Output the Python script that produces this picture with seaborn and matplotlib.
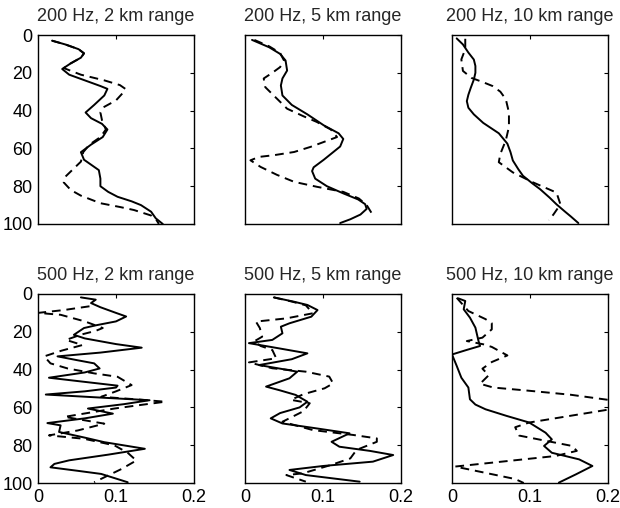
import matplotlib
matplotlib.use("Agg")
import matplotlib.pyplot as plt
import seaborn as sns
import pandas as pd

sns.set_style("white")
plt.rcParams['font.family'] = ['Liberation Sans', 'DejaVu Sans']

titles = ["200 Hz, 2 km range", "200 Hz, 5 km range", "200 Hz, 10 km range",
          "500 Hz, 2 km range", "500 Hz, 5 km range", "500 Hz, 10 km range"]
x_ticks = [0, 0.1, 0.2]
x_tick_labels = ["0", "0.1", "0.2"]
y_ticks = [0, 20, 40, 60, 80, 100]
y_tick_labels = ["0", "20", "40", "60", "80", "100"]

# ---- 200 Hz, 2 km ----
p1_solid_x = [0.018, 0.035, 0.052, 0.059, 0.055, 0.042, 0.031, 0.040, 0.060, 0.080, 0.089, 0.085, 0.072, 0.061,
              0.068, 0.082, 0.089, 0.083, 0.068, 0.055, 0.059, 0.078, 0.080, 0.080, 0.090, 0.102, 0.120, 0.132,
              0.145, 0.151, 0.160]
p1_solid_d = [3, 5, 7.5, 9.7, 12, 15, 18, 21, 24, 27, 28.5, 32, 37, 41, 44, 47, 50, 54, 58, 62, 66, 71.5, 76, 80,
              83, 85.6, 88, 90, 93.5, 97, 100]
p1_dash_x = [0.018, 0.035, 0.052, 0.059, 0.055, 0.042, 0.033, 0.055, 0.085, 0.105, 0.112, 0.108, 0.100, 0.085,
             0.080, 0.082, 0.087, 0.080, 0.066, 0.058, 0.055, 0.045, 0.035, 0.033, 0.042, 0.055, 0.080, 0.105,
             0.123, 0.145, 0.152, 0.155]
p1_dash_d = [3, 5, 7.5, 9.7, 12, 15, 17.5, 21, 24, 26.5, 28.5, 31, 34.6, 38, 41, 45, 50, 54, 58, 62, 67, 71, 75,
             78, 82, 85, 89, 91, 92.6, 95.5, 98, 100]

# ---- 200 Hz, 5 km ----
p2_solid_x = [0.009, 0.031, 0.045, 0.052, 0.054, 0.048, 0.046, 0.048, 0.060, 0.080, 0.101, 0.120, 0.126, 0.122,
              0.110, 0.101, 0.088, 0.086, 0.090, 0.105, 0.126, 0.145, 0.154, 0.156, 0.148, 0.135, 0.122]
p2_solid_d = [2.6, 6.5, 10, 13.5, 18.8, 23, 26.7, 32, 37, 42, 47.8, 52, 55, 59, 63, 66, 70, 72, 76, 80, 83.8, 87,
              89.5, 92, 95, 97.5, 99.5]
p2_dash_x = [0.012, 0.031, 0.045, 0.050, 0.045, 0.035, 0.024, 0.026, 0.039, 0.054, 0.075, 0.092, 0.110, 0.118,
             0.101, 0.084, 0.063, 0.037, 0.018, 0.007, 0.020, 0.041, 0.063, 0.092, 0.126, 0.146, 0.156, 0.165]
p2_dash_d = [2.6, 6, 9.5, 13.5, 17, 20, 23, 27.6, 32.9, 39, 43, 46, 50, 54, 56.6, 59.2, 61.9, 63.6, 64.5, 66.3,
             69.8, 74, 77.7, 80.3, 83, 86.5, 90, 96]

# ---- 200 Hz, 10 km ----
p3_solid_x = [0.006, 0.014, 0.021, 0.028, 0.030, 0.030, 0.028, 0.024, 0.021, 0.019, 0.021, 0.028, 0.040, 0.060,
              0.071, 0.075, 0.078, 0.085, 0.091, 0.103, 0.113, 0.125, 0.134, 0.145, 0.152, 0.162]
p3_solid_d = [1.8, 5, 9.3, 13, 16.4, 20, 23.6, 28, 31.6, 35, 38.5, 42, 46.5, 52, 57.5, 62, 66.4, 71, 74.5, 78.5,
              81.6, 86, 89.6, 93.5, 95.9, 99.5]
p3_dash_x = [0.017, 0.017, 0.012, 0.014, 0.025, 0.040, 0.052, 0.062, 0.069, 0.073, 0.073, 0.069, 0.062, 0.060,
             0.078, 0.104, 0.134, 0.139, 0.130, 0.124]
p3_dash_d = [2, 7.5, 12.9, 19, 22.7, 25, 27, 30, 34, 41, 48.6, 55.7, 62.9, 67.3, 72.7, 78, 83.4, 89.6, 95, 98]

# ---- 500 Hz, 2 km ----
p4_solid_x = [0.055, 0.074, 0.068, 0.080, 0.100, 0.113, 0.100, 0.075, 0.059, 0.046, 0.060, 0.100, 0.133, 0.080,
              0.025, 0.050, 0.072, 0.079, 0.060, 0.014, 0.060, 0.102, 0.100, 0.060, 0.010, 0.080, 0.143, 0.110,
              0.064, 0.096, 0.060, 0.012, 0.029, 0.027, 0.060, 0.085, 0.137, 0.090, 0.040, 0.021, 0.016, 0.050,
              0.081, 0.115]
p4_solid_d = [1.8, 3, 4.8, 7, 10, 11.9, 14.5, 16.5, 18, 21.6, 23.5, 26.5, 28.4, 31, 33, 35, 36.7, 39.4, 41.5,
              44.3, 46.5, 48.5, 49.5, 51.5, 53.2, 54.8, 56.2, 58.3, 60.6, 63.3, 65.8, 68.3, 69.5, 73, 76, 78.4,
              81.9, 85, 88, 89.9, 91.7, 93.5, 95.2, 99.6]
p4_dash_x = [0.066, 0.033, 0.0, 0.029, 0.060, 0.083, 0.074, 0.055, 0.036, 0.057, 0.030, 0.008, 0.016, 0.038,
             0.072, 0.102, 0.120, 0.100, 0.081, 0.125, 0.163, 0.130, 0.098, 0.034, 0.085, 0.051, 0.014, 0.059,
             0.098, 0.115, 0.126, 0.107, 0.090, 0.072]
p4_dash_d = [6.5, 8.5, 10, 11, 14.5, 18, 19.5, 21.5, 24.3, 27, 30, 33, 36.7, 39.4, 42, 43.8, 48.2, 51.5, 54.4,
             55.7, 57, 58.8, 60.6, 65, 68.6, 72.2, 74.8, 76.6, 80.1, 84, 88.1, 92.6, 96, 99.6]

# ---- 500 Hz, 5 km ----
p5_solid_x = [0.037, 0.063, 0.080, 0.093, 0.085, 0.057, 0.046, 0.048, 0.035, 0.005, 0.040, 0.080, 0.060, 0.018,
              0.045, 0.067, 0.057, 0.027, 0.045, 0.065, 0.080, 0.070, 0.045, 0.033, 0.048, 0.090, 0.134, 0.111,
              0.121, 0.160, 0.190, 0.164, 0.100, 0.057, 0.078, 0.147]
p5_solid_d = [1.8, 4.1, 5.8, 8.5, 12, 15.5, 17.3, 20.8, 24.3, 26, 28.5, 31.4, 34.5, 37.6, 39.5, 41.1, 44.6, 49,
              51, 53.4, 57, 60, 63, 65.8, 68.5, 71, 73.7, 78.2, 80.8, 83, 85.2, 88.7, 91, 93.1, 95.8, 99.3]
p5_dash_x = [0.037, 0.060, 0.078, 0.087, 0.053, 0.014, 0.019, 0.022, 0.012, 0.020, 0.035, 0.040, 0.005, 0.035,
             0.078, 0.108, 0.113, 0.102, 0.075, 0.059, 0.083, 0.075, 0.048, 0.087, 0.139, 0.169, 0.169, 0.143,
             0.135, 0.110, 0.074, 0.053, 0.078]
p5_dash_d = [1.8, 4, 6, 10.2, 12.9, 14.6, 18, 22.6, 25, 27.5, 29.6, 34, 36.2, 39.3, 41.1, 43.7, 47.3, 49.9, 53,
             56, 57.8, 62, 67.6, 72, 74.6, 76.4, 78.2, 82.5, 87, 90.5, 94.9, 95.8, 99.3]

# ---- 500 Hz, 10 km ----
p6_solid_x = [0.008, 0.017, 0.015, 0.023, 0.030, 0.034, 0.036, 0.018, 0.0, 0.006, 0.012, 0.021, 0.023, 0.030,
              0.043, 0.070, 0.099, 0.120, 0.128, 0.118, 0.128, 0.163, 0.180, 0.159, 0.137]
p6_solid_d = [2.3, 3.7, 8.1, 12.5, 17.8, 24.9, 27.5, 29.7, 32, 38, 44.3, 49.5, 55.7, 58.5, 61, 64.5, 68, 73.4,
              76.9, 80.4, 84, 87.5, 91, 95.4, 99.8]
p6_dash_x = [0.006, 0.021, 0.043, 0.051, 0.051, 0.039, 0.019, 0.040, 0.051, 0.071, 0.051, 0.039, 0.047, 0.036,
             0.053, 0.094, 0.152, 0.200, 0.240, 0.197, 0.099, 0.081, 0.086, 0.154, 0.160, 0.133, 0.004, 0.081,
             0.092]
p6_dash_d = [2, 9, 13.3, 15.5, 18.7, 23.1, 24.9, 26.6, 28, 32.5, 36, 39.5, 43, 47.5, 49.5, 51, 53.3, 56, 58.5,
             61.4, 68, 70.5, 74.9, 80.4, 83, 85.7, 91.3, 97.9, 100]

panels = [
    (p1_solid_x, p1_solid_d, p1_dash_x, p1_dash_d),
    (p2_solid_x, p2_solid_d, p2_dash_x, p2_dash_d),
    (p3_solid_x, p3_solid_d, p3_dash_x, p3_dash_d),
    (p4_solid_x, p4_solid_d, p4_dash_x, p4_dash_d),
    (p5_solid_x, p5_solid_d, p5_dash_x, p5_dash_d),
    (p6_solid_x, p6_solid_d, p6_dash_x, p6_dash_d),
]

fig = plt.figure(figsize=(6.2, 5.08), dpi=100)
lefts = [38 / 620, 245 / 620, 452 / 620]
bottoms = [(508 - 224) / 508, (508 - 483) / 508]
w = 156 / 620
h = 189 / 508

for i, (sx, sd, dx, dd) in enumerate(panels):
    r, c = divmod(i, 3)
    ax = fig.add_axes([lefts[c], bottoms[r], w, h])
    sns.lineplot(x=sx, y=sd, sort=False, estimator=None, color="black", lw=1.4, ax=ax)
    sns.lineplot(x=dx, y=dd, sort=False, estimator=None, color="black", lw=1.4,
                 linestyle=(0, (4.5, 3)), ax=ax)
    ax.set_xlim(0, 0.2)
    ax.set_ylim(100, 0)
    ax.set_xticks(x_ticks)
    ax.set_yticks(y_ticks)
    ax.tick_params(direction="in", length=3, width=0.8, top=True, right=True,
                   labelsize=13, pad=4, colors="black")
    if c == 0:
        ax.set_yticklabels(y_tick_labels)
    else:
        ax.set_yticklabels([])
    if r == 1:
        ax.set_xticklabels(x_tick_labels)
    else:
        ax.set_xticklabels([])
    for s in ax.spines.values():
        s.set_color("black")
        s.set_linewidth(1.0)
    ax.set_xlabel("")
    ax.set_ylabel("")
    ax.set_title(titles[i], fontsize=13, pad=10)

fig.savefig("out.png", dpi=100, facecolor="white")
